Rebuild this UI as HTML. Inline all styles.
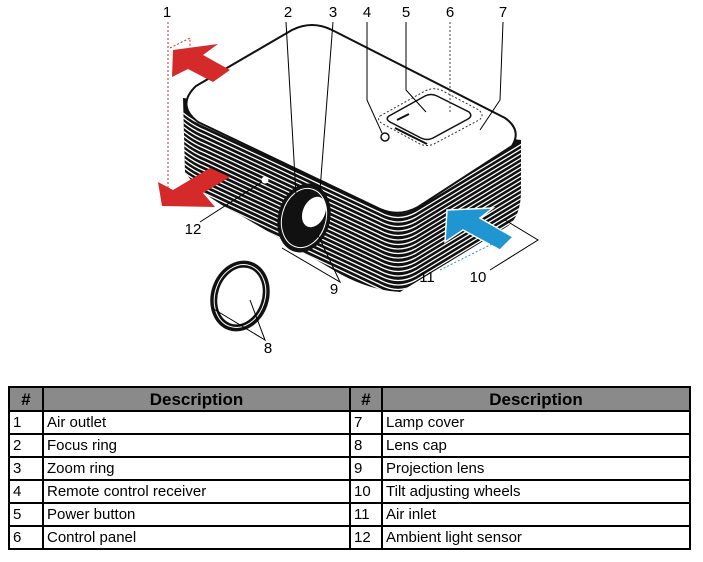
<!DOCTYPE html>
<html><head><meta charset="utf-8"><style>
body{margin:0;width:703px;height:562px;background:#fff;font-family:"Liberation Sans","DejaVu Sans",sans-serif;overflow:hidden;position:relative}
svg{position:absolute;left:0;top:0}
table{position:absolute;left:8px;top:386px;border-collapse:collapse;width:681px;font-size:15px;table-layout:fixed}
td,th{border:2px solid #000;padding:0 3px;height:21px;line-height:19px;text-align:left;font-weight:normal;white-space:nowrap}
th{background:#8a8a8a;font-weight:bold;text-align:center;font-size:17px;height:22px}
</style></head><body>
<svg width="703" height="380" viewBox="0 0 703 380">
<defs>
<clipPath id="b"><path d="M183,98 L185,172 Q200,195 240,215 L330,268 Q365,290 400,292 L508,226 Q521,216 521,190 L521,140 Z"/></clipPath>
</defs>
<path d="M183,98 L185,172 Q200,195 240,215 L330,268 Q365,290 400,292 L508,226 Q521,216 521,190 L521,140 Z" fill="#111"/>
<g clip-path="url(#b)" stroke="#fff" stroke-width="1.3" fill="none">
<g id="s"><path d="M170,100 Q185,118 205,126 L380,208 Q398,218 416,208 L535,136"/></g>
<use href="#s" y="4.5"/><use href="#s" y="9"/><use href="#s" y="13.5"/><use href="#s" y="18"/><use href="#s" y="22.5"/><use href="#s" y="27"/><use href="#s" y="31.5"/><use href="#s" y="36"/><use href="#s" y="40.5"/><use href="#s" y="45"/><use href="#s" y="49.5"/><use href="#s" y="54"/><use href="#s" y="58.5"/><use href="#s" y="63"/><use href="#s" y="67.5"/><use href="#s" y="72"/><use href="#s" y="76.5"/><use href="#s" y="81"/>
</g>
<path d="M196,86 L292,30 Q312,20 332,30 L505,118 Q522,130 512,146 L418,207 Q398,218 378,208 L198,122 Q176,105 196,86 Z" fill="#fff" stroke="#111" stroke-width="2"/>
<g transform="translate(-3,16)">
<path d="M383,100 L428,75 Q436,71 444,74 L482,94 Q488,100 482,104 L437,128 Q430,131 423,128 L386,108 Q379,104 383,100 Z" fill="none" stroke="#333" stroke-dasharray="2 2"/>
<path d="M392,100 L428,80 Q434,77 440,80 L472,96 Q476,100 471,103 L436,122 Q430,125 424,122 L393,106 Q388,103 392,100 Z" fill="#fff" stroke="#111" stroke-width="1.5"/>
<path d="M400,104 L412,98 M398,112 L430,128" stroke="#111" stroke-width="2"/>
</g>
<circle cx="385" cy="137" r="4" fill="#fff" stroke="#111" stroke-width="1.5"/>
<ellipse cx="304" cy="218" rx="26" ry="35" fill="#111" transform="rotate(15 304 218)"/>
<ellipse cx="304" cy="218" rx="22" ry="30" fill="none" stroke="#fff" stroke-width="1" transform="rotate(15 304 218)"/>
<ellipse cx="314" cy="212" rx="11" ry="16" fill="#fff" transform="rotate(25 314 212)"/>
<circle cx="265" cy="180" r="3.5" fill="#fff"/>
<ellipse cx="240" cy="296" rx="29" ry="36" fill="#111" transform="rotate(18 240 296)"/>
<ellipse cx="240" cy="296" rx="22" ry="29" fill="#fff" transform="rotate(18 240 296)"/>
<ellipse cx="240" cy="296" rx="25" ry="32" fill="none" stroke="#fff" stroke-width="1" transform="rotate(18 240 296)"/>
<path d="M173,50 L218,44 L203,55 L230,70 L213,82 L188,69 L172,77 Z" fill="#d42a2a"/>
<path d="M158,182 L173,190 L210,168 L230,177 L203,193 L215,207 L162,206 Z" fill="#d42a2a"/>
<path d="M447,210 L493,208 L480,218 L513,237 L500,250 L463,230 L445,242 Z" fill="#1f95d1" stroke="#fff" stroke-width="1.5"/>
<g stroke="#000" stroke-width="1" fill="none">
<path d="M286,22 L296,195"/><path d="M333,22 L320,190"/><path d="M367,22 L367,100 L382,133"/>
<path d="M406,22 L406,90 L426,112"/><path d="M503,22 L500,100 L480,130"/>
<path d="M200,222 L262,182"/><path d="M282,248 L340,282 L318,235"/>
<path d="M505,220 L538,240 L490,270"/><path d="M212,308 L265,340 L250,300"/>
</g>
<g stroke="#d42a2a" stroke-width="1" stroke-dasharray="2 2" fill="none"><path d="M168,22 L168,200"/><path d="M170,48 L190,38 L190,58"/></g>
<path d="M450,22 L450,112" stroke="#444" stroke-dasharray="2 2"/>
<path d="M440,270 L500,240" stroke="#1f95d1" stroke-dasharray="2 2"/>
<g font-family="Liberation Sans,DejaVu Sans,sans-serif" font-size="15" text-anchor="middle">
<text x="167" y="17">1</text><text x="288" y="17">2</text><text x="333" y="17">3</text><text x="367" y="17">4</text><text x="406" y="17">5</text><text x="450" y="17">6</text><text x="503" y="17">7</text>
<text x="193" y="234">12</text><text x="334" y="294">9</text><text x="427" y="282">11</text><text x="478" y="282">10</text><text x="268" y="353">8</text>
</g>
</svg>
<table>
<colgroup><col style="width:34px"><col style="width:307px"><col style="width:32px"><col style="width:308px"></colgroup>
<tr><th>#</th><th>Description</th><th>#</th><th>Description</th></tr>
<tr><td>1</td><td>Air outlet</td><td>7</td><td>Lamp cover</td></tr>
<tr><td>2</td><td>Focus ring</td><td>8</td><td>Lens cap</td></tr>
<tr><td>3</td><td>Zoom ring</td><td>9</td><td>Projection lens</td></tr>
<tr><td>4</td><td>Remote control receiver</td><td>10</td><td>Tilt adjusting wheels</td></tr>
<tr><td>5</td><td>Power button</td><td>11</td><td>Air inlet</td></tr>
<tr><td>6</td><td>Control panel</td><td>12</td><td>Ambient light sensor</td></tr>
</table>
</body></html>
